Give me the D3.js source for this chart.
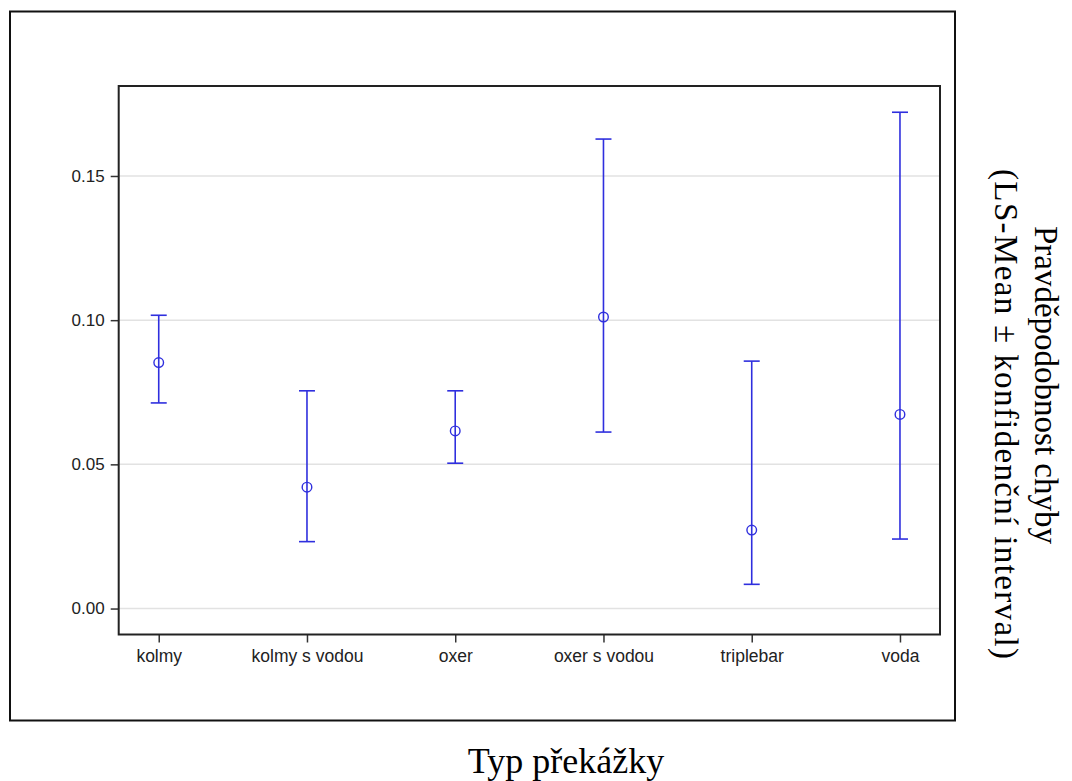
<!DOCTYPE html>
<html>
<head>
<meta charset="utf-8">
<title>Typ překážky</title>
<style>
  body { margin: 0; background: #fff; }
  .tick text { font-family: Arial, "Liberation Sans", sans-serif; fill: #222; }
  .title { font-family: "Times New Roman", "Liberation Serif", serif; fill: #000; }
</style>
</head>
<body>
<svg width="1072" height="781"></svg>
<script src="https://d3js.org/d3.v7.min.js"></script>
<script>

// obstacle types and LS-means with confidence limits
var categories = ["kolmy", "kolmy s vodou", "oxer", "oxer s vodou", "triplebar", "voda"];
var means = [0.0853, 0.0421, 0.0616, 0.1011, 0.0272, 0.0673];
var lower = [0.0713, 0.0232, 0.0504, 0.0612, 0.0084, 0.0241];
var upper = [0.1017, 0.0755, 0.0755, 0.1628, 0.0858, 0.1721];
var yTicks = [0, 0.05, 0.10, 0.15];

var svg = d3.select("svg");

var margin = {left: 118.7, right: 940, top: 86, bottom: 634.5};
var blue = "#2f2fde";

// outer frame
svg.append("rect")
    .attr("x", 10).attr("y", 11.5)
    .attr("width", 945).attr("height", 709)
    .attr("fill", "none")
    .attr("stroke", "#111")
    .attr("stroke-width", 2);

var x = d3.scalePoint()
    .domain(categories)
    .range([margin.left, margin.right])
    .padding(0.27);

var y = d3.scaleLinear()
    .domain([-0.009, 0.1812])
    .range([margin.bottom, margin.top]);

// grid lines
svg.append("g")
  .selectAll("line")
  .data(yTicks)
  .enter().append("line")
    .attr("x1", margin.left).attr("x2", margin.right)
    .attr("y1", function(d) { return y(d); })
    .attr("y2", function(d) { return y(d); })
    .attr("stroke", "#e2e2e2")
    .attr("stroke-width", 1.5);

// y axis
var gy = svg.append("g")
    .attr("transform", "translate(" + margin.left + ",0)")
    .call(d3.axisLeft(y).tickValues(yTicks).tickFormat(d3.format(".2f")).tickSize(8).tickPadding(6));
gy.select(".domain").remove();
gy.selectAll(".tick line").attr("stroke", "#333").attr("stroke-width", 1.5);
gy.selectAll(".tick text").attr("font-size", 17);

// x axis
var gx = svg.append("g")
    .attr("transform", "translate(0," + margin.bottom + ")")
    .call(d3.axisBottom(x).tickSize(8).tickPadding(7));
gx.select(".domain").remove();
gx.selectAll(".tick line").attr("stroke", "#333").attr("stroke-width", 1.5);
gx.selectAll(".tick text").attr("font-size", 17.5);

// plot frame
svg.append("rect")
    .attr("x", margin.left).attr("y", margin.top)
    .attr("width", margin.right - margin.left)
    .attr("height", margin.bottom - margin.top)
    .attr("fill", "none")
    .attr("stroke", "#222")
    .attr("stroke-width", 2);

// error bars
var bars = svg.append("g")
  .selectAll("g")
  .data(categories)
  .enter().append("g")
    .attr("stroke", blue)
    .attr("stroke-width", 1.6)
    .attr("fill", "none");

bars.append("line")
    .attr("x1", function(d) { return x(d); })
    .attr("x2", function(d) { return x(d); })
    .attr("y1", function(d, i) { return y(lower[i]); })
    .attr("y2", function(d, i) { return y(upper[i]); });

bars.append("line")
    .attr("x1", function(d) { return x(d) - 8; })
    .attr("x2", function(d) { return x(d) + 8; })
    .attr("y1", function(d, i) { return y(upper[i]); })
    .attr("y2", function(d, i) { return y(upper[i]); });

bars.append("line")
    .attr("x1", function(d) { return x(d) - 8; })
    .attr("x2", function(d) { return x(d) + 8; })
    .attr("y1", function(d, i) { return y(lower[i]); })
    .attr("y2", function(d, i) { return y(lower[i]); });

// open circle marker, the bar line shows through it
bars.append("circle")
    .attr("cx", function(d) { return x(d); })
    .attr("cy", function(d, i) { return y(means[i]); })
    .attr("r", 4.8)
    .attr("stroke-width", 1.4);

// axis titles
svg.append("text")
    .attr("class", "title")
    .attr("x", 566).attr("y", 773)
    .attr("text-anchor", "middle")
    .attr("font-size", 36)
    .text("Typ překážky");

var yt = svg.append("text")
    .attr("class", "title")
    .attr("text-anchor", "middle")
    .attr("font-size", 33)
    .attr("transform", "translate(1035,0) rotate(90)");
yt.append("tspan").attr("x", 385).attr("y", 0).text("Pravděpodobnost chyby");
yt.append("tspan").attr("x", 414).attr("y", 40)
    .attr("textLength", 490)
    .attr("lengthAdjust", "spacing")
    .text("(LS-Mean ± konfidenční interval)");

</script>
</body>
</html>
